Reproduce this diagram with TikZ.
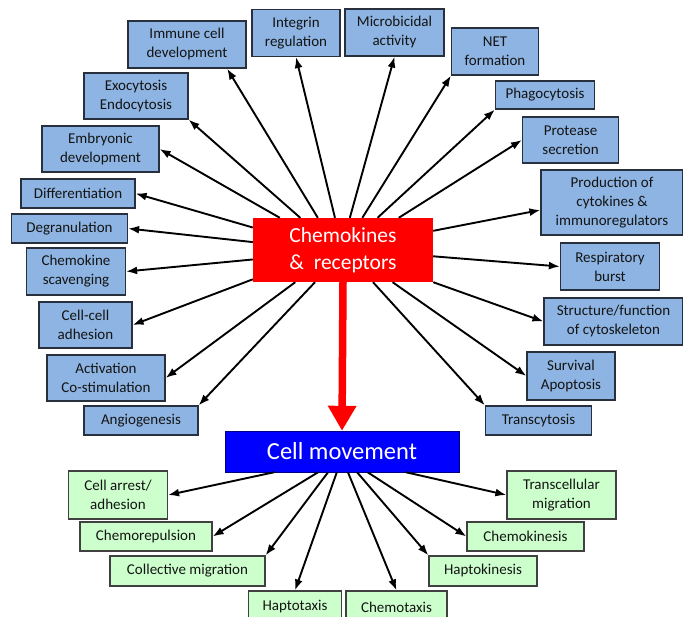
\documentclass[tikz,border=0pt]{standalone}
\usepackage{fontspec}
\setmainfont{Carlito}
\usetikzlibrary{arrows.meta}

\definecolor{boxblue}{RGB}{141,180,226}
\definecolor{boxgreen}{RGB}{204,255,204}
\definecolor{boxedge}{RGB}{40,48,62}
\definecolor{txtdark}{RGB}{20,20,20}

\begin{document}
\begin{tikzpicture}[
        x=1pt, y=-1pt,
        >=Latex,
        dims/.style 2 args={minimum width=#1pt, minimum height=#2pt},
        box/.style={rectangle, draw=boxedge, line width=1.2pt, align=center, inner sep=1pt, text=txtdark, font=\fontsize{15}{19}\selectfont},
        effect/.style={box, fill=boxblue},
        motion/.style={box, fill=boxgreen, draw=black!75},
        line/.style={-{Latex[length=11pt,width=8pt]}, line width=1.9pt},
        main/.style={-{Triangle[length=25pt,width=27pt]}, line width=7.5pt, red}
    ]
        \useasboundingbox (0,0) rectangle (683,617);

        % central nodes
        \node[rectangle, fill=red, text=white, align=center, dims={180}{64}, font=\fontsize{21.5}{27}\selectfont] (chem) at (343,250) {Chemokines\\\&~ receptors\hspace{6pt}};
        \node[rectangle, fill=blue, draw=blue!50!black, text=white, dims={234}{41}, font=\fontsize{24.5}{28}\selectfont] (move) at (342,451.5) {Cell movement};

        % effects of chemokines
        \node[effect, dims={118}{47}] (immune) at (187,44.5) {Immune cell\\development};
        \node[effect, dims={88}{47}] (integrin) at (296,33) {Integrin\\regulation};
        \node[effect, dims={99}{47}] (microb) at (394.5,32.5) {Microbicidal\\activity};
        \node[effect, dims={87}{47}] (net) at (495,51.5) {NET\\formation};
        \node[effect, dims={104}{46}] (exo) at (136,96) {Exocytosis\\Endocytosis};
        \node[effect, dims={99}{28}] (phago) at (545,95) {Phagocytosis};
        \node[effect, dims={117}{46}] (embryo) at (100.5,149) {Embryonic\\development};
        \node[effect, dims={96}{46}] (protease) at (570.5,140) {Protease\\secretion};
        \node[effect, dims={114}{29}] (diff) at (78,193.5) {Differentiation};
        \node[effect, dims={142}{65}] (prod) at (612,202.5) {Production of\\cytokines \&\\immunoregulators};
        \node[effect, dims={116}{29}] (degran) at (69.5,228.5) {Degranulation};
        \node[effect, dims={99}{47}] (scav) at (76,271.5) {Chemokine\\scavenging};
        \node[effect, dims={99}{47}] (resp) at (610,266.5) {Respiratory\\burst};
        \node[effect, dims={93}{46}] (adh) at (85.5,325) {Cell-cell\\adhesion};
        \node[effect, dims={139}{47}] (cyto) at (613.5,321.5) {Structure/function\\of cytoskeleton};
        \node[effect, dims={118}{46}] (activ) at (106,378) {Activation\\Co-stimulation};
        \node[effect, dims={88}{48}] (surv) at (571,376) {Survival\\Apoptosis};
        \node[effect, dims={114}{29}] (angio) at (141,420.5) {Angiogenesis};
        \node[effect, dims={106}{29}] (transcy) at (538.5,420.5) {Transcytosis};

        % kinds of cell movement
        \node[motion, dims={99}{48}] (arrest) at (118,495) {Cell arrest/\\adhesion};
        \node[motion, dims={109}{48}] (transcell) at (561.5,495) {Transcellular\\migration};
        \node[motion, dims={132}{29}] (repul) at (146,536.5) {Chemorepulsion};
        \node[motion, dims={117}{29}] (kines) at (525.5,536.5) {Chemokinesis};
        \node[motion, dims={155}{30}] (collect) at (187.5,571) {Collective migration};
        \node[motion, dims={108}{30}] (haptok) at (483,571) {Haptokinesis};
        \node[motion, dims={93}{32}] (haptotax) at (295,607) {Haptotaxis};
        \node[motion, dims={101}{32}] (chemotax) at (396.5,607) {Chemotaxis};

        \draw[main] (chem.south) -- (move.north);

        \draw[line] (chem.153) -- (embryo.east);
        \draw[line] (chem.143) -- (exo.south east);
        \draw[line] (chem.128) -- (immune.-31);
        \draw[line] (chem.104) -- (integrin.south);
        \draw[line] (chem.78) -- (microb.south);
        \draw[line] (chem.59) -- (net.south west);
        \draw[line] (chem.43) -- (phago.south west);
        \draw[line] (chem.30) -- (protease.west);
        \draw[line] (chem.12.5) -- (prod.-174);
        \draw[line] (chem.-4.4) -- (resp.west);
        \draw[line] (chem.south east) -- (cyto.west);
        \draw[line] (chem.-33) -- (surv.west);
        \draw[line] (chem.-47) -- (transcy.north west);
        \draw[line] (chem.-131) -- (angio.north east);
        \draw[line] (chem.-146) -- (activ.east);
        \draw[line] (chem.-162) -- (adh.east);
        \draw[line] (chem.-174) -- (scav.east);
        \draw[line] (chem.175) -- (degran.east);
        \draw[line] (chem.166) -- (diff.east);

        \draw[line] (move.-163) -- (arrest.east);
        \draw[line] (move.-139.5) -- (repul.east);
        \draw[line] (move.-124) -- (collect.north east);
        \draw[line] (move.-104) -- (haptotax.north);
        \draw[line] (move.-74) -- (chemotax.north);
        \draw[line] (move.-54) -- (haptok.north west);
        \draw[line] (move.-39) -- (kines.west);
        \draw[line] (move.-18.6) -- (transcell.west);
    \end{tikzpicture}
\end{document}
